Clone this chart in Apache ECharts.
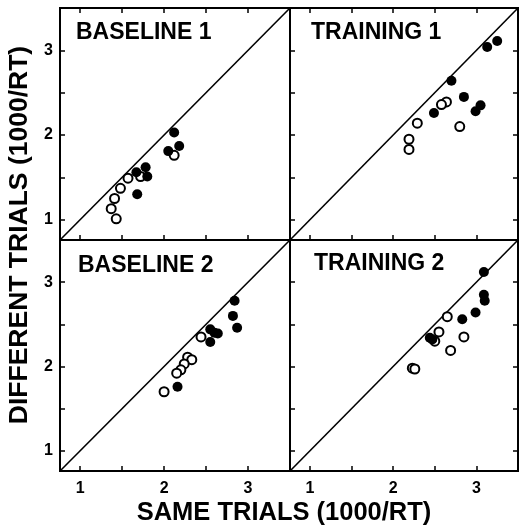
<!DOCTYPE html>
<html>
<head>
<meta charset="utf-8">
<script src="https://cdn.jsdelivr.net/npm/echarts@6/dist/echarts.min.js"></script>
<style>
html,body{margin:0;padding:0;background:#fff;}
#chart{width:519px;height:526px;}
</style>
</head>
<body>
<div id="chart"></div>
<script>
// ---- data ----
var panelTitles = ['BASELINE 1', 'TRAINING 1', 'BASELINE 2', 'TRAINING 2'];
var axisRange = [0.76, 3.5];
var tickValues = [1, 1.5, 2, 2.5, 3];
var tickLabels = [1, 2, 3];
var xTitle = 'SAME TRIALS (1000/RT)';
var yTitle = 'DIFFERENT TRIALS (1000/RT)';

var baseline1Filled = [[2.12,2.03],[2.18,1.87],[2.05,1.81],[1.78,1.62],[1.67,1.56],[1.80,1.51],[1.68,1.30]];
var baseline1Open = [[2.12,1.76],[1.72,1.51],[1.57,1.49],[1.48,1.37],[1.41,1.25],[1.37,1.13],[1.43,1.01]];

var training1Filled = [[3.25,3.11],[3.13,3.04],[2.70,2.64],[2.85,2.45],[3.05,2.35],[2.99,2.28],[2.49,2.26]];
var training1Open = [[2.64,2.39],[2.58,2.36],[2.29,2.14],[2.80,2.10],[2.19,1.95],[2.19,1.83]];

var baseline2Filled = [[2.84,2.78],[2.82,2.60],[2.87,2.46],[2.55,2.44],[2.64,2.39],[2.60,2.40],[2.55,2.29],[2.16,1.76]];
var baseline2Open = [[2.44,2.35],[2.28,2.11],[2.33,2.08],[2.24,2.03],[2.20,1.96],[2.15,1.92],[2.00,1.70]];

var training2Filled = [[3.09,3.12],[3.09,2.85],[3.10,2.78],[2.99,2.64],[2.83,2.56],[2.44,2.34],[2.47,2.32]];
var training2Open = [[2.65,2.59],[2.55,2.41],[2.50,2.30],[2.85,2.35],[2.69,2.19],[2.23,1.98],[2.26,1.97]];

var filledSets = [baseline1Filled, training1Filled, baseline2Filled, training2Filled];
var openSets = [baseline1Open, training1Open, baseline2Open, training2Open];

// ---- layout ----
var FONT = 'Liberation Sans, Arial, Helvetica, sans-serif';
var grids = [
  {left: 60, top: 8, width: 230, height: 232},
  {left: 290, top: 8, width: 228, height: 232},
  {left: 60, top: 240, width: 230, height: 231},
  {left: 290, top: 240, width: 228, height: 231}
];
var titlePos = [[76, 21], [311, 21], [78, 254], [314, 252]];

var xAxes = [], yAxes = [], series = [], titles = [];

function axisBase(gi, showLabel, position) {
  return {
    type: 'value', gridIndex: gi, position: position,
    min: axisRange[0], max: axisRange[1],
    axisLine: {show: true, onZero: false, lineStyle: {color: '#000', width: 2}},
    axisTick: {show: true, inside: true, length: 5, customValues: tickValues, lineStyle: {color: '#000', width: 1.5}},
    axisLabel: {show: showLabel, customValues: tickLabels, color: '#000', fontFamily: FONT, fontWeight: 'bold', fontSize: 16, margin: 8},
    splitLine: {show: false}
  };
}

grids.forEach(function (g, i) {
  var isTop = i < 2, isLeft = (i % 2 === 0);
  var xb = axisBase(i, !isTop, 'bottom'); xb.axisLabel.margin = 10;
  xAxes.push(xb);
  var xbIdx = xAxes.length - 1;
  if (isTop) xAxes.push(axisBase(i, false, 'top'));
  var yl = axisBase(i, isLeft, 'left'); yl.axisLabel.margin = 7;
  yAxes.push(yl);
  var ylIdx = yAxes.length - 1;
  if (!isLeft) yAxes.push(axisBase(i, false, 'right'));

  series.push({
    type: 'line', xAxisIndex: xbIdx, yAxisIndex: ylIdx, silent: true,
    data: [[axisRange[0], axisRange[0]], [axisRange[1], axisRange[1]]],
    symbol: 'none', lineStyle: {color: '#000', width: 1.6}, z: 1
  });
  series.push({
    type: 'scatter', xAxisIndex: xbIdx, yAxisIndex: ylIdx,
    data: openSets[i], symbol: 'circle', symbolSize: 9,
    itemStyle: {color: '#fff', borderColor: '#000', borderWidth: 2, opacity: 1}, z: 3
  });
  series.push({
    type: 'scatter', xAxisIndex: xbIdx, yAxisIndex: ylIdx,
    data: filledSets[i], symbol: 'circle', symbolSize: 10,
    itemStyle: {color: '#000', opacity: 1}, z: 4
  });
  titles.push({
    text: panelTitles[i], left: titlePos[i][0], top: titlePos[i][1], padding: 0,
    textStyle: {fontFamily: FONT, fontWeight: 'bold', fontSize: 23, color: '#000'}
  });
});

var chart = echarts.init(document.getElementById('chart'), null, {renderer: 'canvas'});
chart.setOption({
  animation: false,
  backgroundColor: '#fff',
  title: titles,
  grid: grids.map(function (g) {
    return {left: g.left, top: g.top, width: g.width, height: g.height, show: true,
      borderColor: '#000', borderWidth: 2, backgroundColor: 'transparent', containLabel: false};
  }),
  xAxis: xAxes,
  yAxis: yAxes,
  series: series,
  graphic: [
    {type: 'text', x: 284, y: 513, style: {text: xTitle, fontFamily: FONT, fontWeight: 'bold', fontSize: 25.5,
      fill: '#000', align: 'center', verticalAlign: 'middle'}},
    {type: 'text', x: 20, y: 235, rotation: Math.PI / 2, style: {text: yTitle, fontFamily: FONT, fontWeight: 'bold', fontSize: 26.5,
      fill: '#000', align: 'center', verticalAlign: 'middle'}}
  ]
});
</script>
</body>
</html>
